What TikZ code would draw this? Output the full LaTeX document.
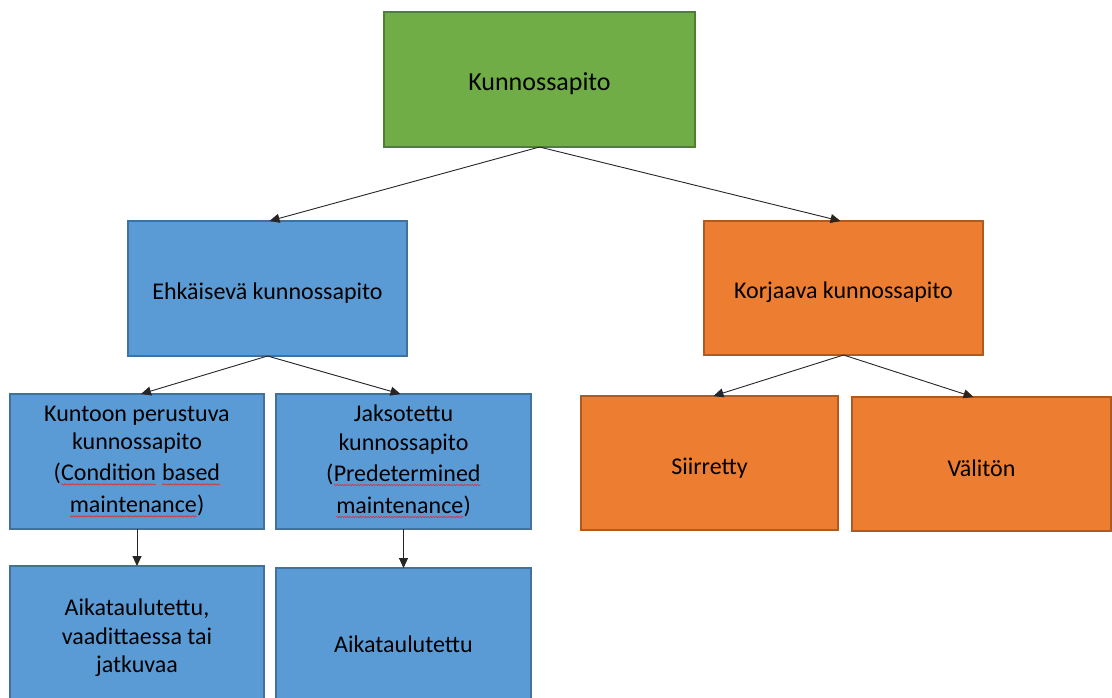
\documentclass[tikz,border=0pt]{standalone}
\usepackage{fontspec}
\setmainfont{Carlito}
\usetikzlibrary{arrows.meta,decorations.pathmorphing}
\definecolor{gfill}{HTML}{70AD47}
\definecolor{gdraw}{HTML}{507E32}
\definecolor{bfill}{HTML}{5B9BD5}
\definecolor{bdraw}{HTML}{41719C}
\definecolor{ofill}{HTML}{ED7D31}
\definecolor{odraw}{HTML}{AE5A21}
\definecolor{sqred}{HTML}{E03030}
\tikzset{
  wvword/.style={rectangle,inner sep=0pt,outer sep=0pt,minimum width=0pt,minimum height=0pt,draw=none,fill=none,anchor=base,align=left},
  wvline/.style={sqred,line width=0.6pt,decorate,decoration={snake,amplitude=0.7pt,segment length=2.6pt}}
}
\newcommand\wv[1]{\tikz[baseline=(w.base)]{\node[wvword](w){#1};\draw[wvline]([yshift=-4pt]w.base west)--([yshift=-4pt]w.base east);}}
\tikzset{
  box/.style={rectangle,line width=1.2pt,inner sep=0pt,outer sep=0pt,align=center,text=black,
    font=\fontsize{24}{28.5}\selectfont,execute at begin node={\rule{0pt}{26pt}}},
  gbox/.style={box,fill=gfill,draw=gdraw,font=\fontsize{26}{30}\selectfont},
  bbox/.style={box,fill=bfill,draw=bdraw},
  obox/.style={box,fill=ofill,draw=odraw},
  conn/.style={draw=black!85,line width=0.9pt,-{Triangle[length=10pt,width=9pt]}}
}
\begin{document}
\begin{tikzpicture}[x=1pt,y=-1pt]
\clip (0,0) rectangle (1112,698);
\fill[white] (0,0) rectangle (1112,698);
\node[gbox,minimum width=311pt,minimum height=135pt] (root) at (539.5,79.5) {Kunnossapito};
\node[bbox,minimum width=279pt,minimum height=135pt] (ehk) at (267.5,288.5) {Ehkäisevä kunnossapito};
\node[obox,minimum width=279pt,minimum height=134pt] (kor) at (843.5,288) {Korjaava kunnossapito};
\node[bbox,minimum width=254pt,minimum height=135pt] (kun) at (137,461.5) {Kuntoon perustuva\\kunnossapito\\(\wv{Condition} \wv{based}\\\wv{maintenance})};
\node[bbox,minimum width=255pt,minimum height=135pt] (jak) at (403.5,461.5) {Jaksotettu\\kunnossapito\\(\wv{Predetermined}\\\wv{maintenance})};
\node[obox,minimum width=257pt,minimum height=134pt] (sii) at (709.5,463) {Siirretty};
\node[obox,minimum width=259pt,minimum height=134pt] (val) at (981.5,464) {Välitön};
\node[bbox,minimum width=254pt,minimum height=144pt] (aik1) at (137,638) {Aikataulutettu,\\vaadittaessa tai\\jatkuvaa};
\node[bbox,minimum width=255pt,minimum height=144pt] (aik2) at (403.5,640) {Aikataulutettu};
\draw[conn] (root.south) -- ([xshift=2pt]ehk.north);
\draw[conn] (root.south) -- ([xshift=-3pt]kor.north);
\draw[conn] (ehk.south) -- ([xshift=4pt]kun.north);
\draw[conn] (ehk.south) -- ([xshift=-3pt]jak.north);
\draw[conn] (kor.south) -- ([xshift=4pt]sii.north);
\draw[conn] (kor.south) -- ([xshift=-8pt]val.north);
\draw[conn] (kun.south) -- (aik1.north);
\draw[conn] (jak.south) -- (aik2.north);
\end{tikzpicture}
\end{document}
